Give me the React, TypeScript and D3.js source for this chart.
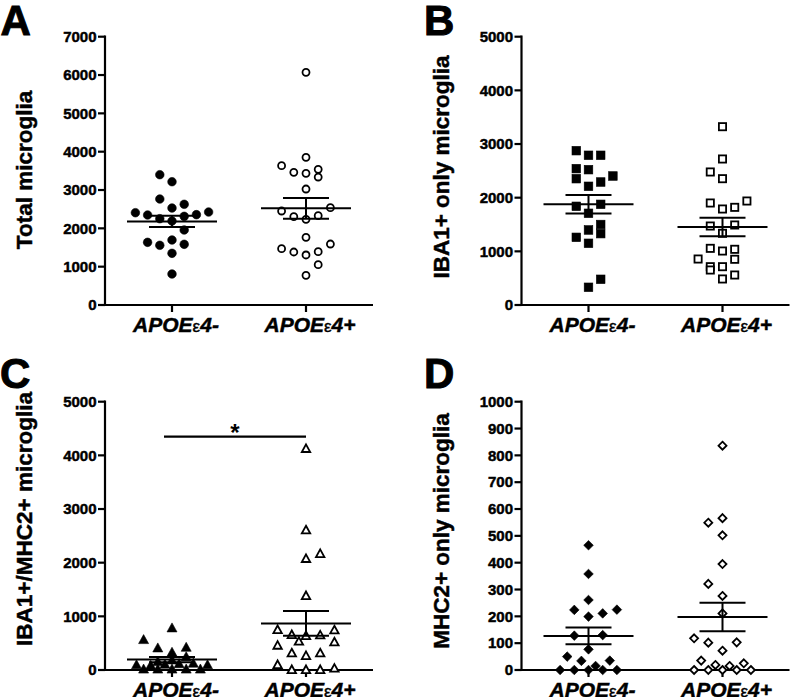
import React from 'react';
import * as d3 from 'd3';

// ---------- data ----------
const categories = ['APOEε4-', 'APOEε4+'];

// Panel A: Total microglia
const totalNeg = [3400, 3217, 2765, 2627, 2530, 2408, 2348, 2252, 2191, 2313, 2357, 2426, 1957, 1635, 1557, 1696, 1583, 1348, 809];
const totalNegSlots = [-1, 0, -1, 1, 0, -3, -2, -1, 0, 1, 2, 3, 1, -2, -1, 0, 1, 0, 0];
const totalPos = [3853, 3635, 3461, 3435, 3539, 3339, 3026, 2452, 2539, 2304, 2235, 2330, 1766, 1470, 1383, 1305, 1391, 1591, 1052, 774, 6071];
const totalPosSlots = [0, -2, -1, 0, 1, 1, 0, -2, 2, -1, 0, 1, 0, -2, -1, 0, 1, 2, 1, 0, 0];
const ticksTotal = [0, 1000, 2000, 3000, 4000, 5000, 6000, 7000];

// Panel B: IBA1+ only microglia
const ibaNeg = [2876, 2790, 2790, 2541, 2522, 2354, 2404, 2292, 2212, 1839, 1876, 1709, 1398, 1500, 1330, 1261, 1150, 479, 330];
const ibaNegSlots = [-1, 0, 1, -1, 0, -1, 2, 1, 0, -1, 1, 0, 0, 1, 1, -1, 0, 1, 0];
const ibaPos = [3323, 2721, 2479, 2354, 1901, 1789, 1820, 1938, 1472, 1336, 1491, 1056, 1006, 1038, 857, 852, 714, 652, 714, 485, 559];
const ibaPosSlots = [0, 0, -1, 0, -1, 0, 1, 2, -1, 0, 1, -1, 0, 1, -2, 1, -1, -1, 0, 0, 1];
const ticksIba = [0, 1000, 2000, 3000, 4000, 5000];

// Panel C: IBA1+/MHC2+ microglia
const doubleNeg = [777, 559, 404, 416, 323, 240, 180, 150, 90, 10, 80, 10, 100, 10, 110, 10, 120, 10, 90];
const doubleNegSlots = [0, -2, -1, 1, 0, 1, 0, -1, -2.5, -2, -1.5, -1, -0.5, 0, 0.5, 1, 1.5, 2, 2.5];
const doublePos = [4119, 2603, 2069, 2162, 1379, 745, 652, 633, 645, 739, 528, 453, 516, 311, 261, 311, 93, 0, 0, 0, 25];
const doublePosSlots = [0, 0, 0, 1, 0, -2, -1, 0, 1, 2, -0.5, -2, 2, -1, 0, 1, -2, -1, 0, 1, 2];
const ticksDouble = [0, 1000, 2000, 3000, 4000, 5000];

// Panel D: MHC2+ only microglia
const mhcNeg = [465, 358, 261, 224, 199, 211, 225, 128, 130, 77, 50, 34, 35, 15, 0, 0, 0, 0, 0];
const mhcNegSlots = [0, 0, 0, -1, 0, 1, 2, -1, 1, 0, -1.5, -0.5, 1.5, 0.5, -2, -1, 0, 1, 2];
const mhcPos = [836, 549, 566, 502, 395, 321, 276, 211, 118, 102, 103, 72, 35, 19, 15, 25, 0, 0, 0, 0, 0];
const mhcPosSlots = [0, -1, 0, 0, 0, -1, 0, 0, -2, -1, 1, 0, -1.5, -0.5, 0.5, 1.5, -2, -1, 0, 1, 2];
const ticksMhc = [0, 100, 200, 300, 400, 500, 600, 700, 800, 900, 1000];

// ---------- layout / style ----------
const FONT = "'Liberation Sans', Arial, Helvetica, sans-serif";
const W = 268;
const H = 268.3;
const LW = 2.2;

type Marker = 'circle' | 'square' | 'triangle' | 'diamond';

interface PanelCfg {
  letter: string;
  letterX: number;
  letterY: number;
  left: number;
  top: number;
  title: string;
  titleCenter: number;
  titleLength?: number;
  ticks: number[];
  groups: number[][];
  slots: number[][];
  slotW: number;
  marker: Marker;
  sig?: boolean;
}

const panels: PanelCfg[] = [
  { letter: 'A', letterX: 0.5, letterY: 35, left: 105, top: 36.7, title: 'Total microglia', titleCenter: 170,
    ticks: ticksTotal, groups: [totalNeg, totalPos], slots: [totalNegSlots, totalPosSlots], slotW: 12.2, marker: 'circle' },
  { letter: 'B', letterX: 424, letterY: 35, left: 521.5, top: 36.7, title: 'IBA1+ only microglia', titleCenter: 167,
    ticks: ticksIba, groups: [ibaNeg, ibaPos], slots: [ibaNegSlots, ibaPosSlots], slotW: 12.2, marker: 'square' },
  { letter: 'C', letterX: 0, letterY: 387.5, left: 105, top: 401.7, title: 'IBA1+/MHC2+ microglia', titleCenter: 519, titleLength: 254,
    ticks: ticksDouble, groups: [doubleNeg, doublePos], slots: [doubleNegSlots, doublePosSlots], slotW: 14.2, marker: 'triangle', sig: true },
  { letter: 'D', letterX: 424, letterY: 387.5, left: 521.5, top: 401.7, title: 'MHC2+ only microglia', titleCenter: 531,
    ticks: ticksMhc, groups: [mhcNeg, mhcPos], slots: [mhcNegSlots, mhcPosSlots], slotW: 14.2, marker: 'diamond' },
];

function MarkerShape({ kind, cx, cy, filled }: { kind: Marker; cx: number; cy: number; filled: boolean }) {
  const fill = filled ? '#000' : '#fff';
  const sw = filled ? 0.6 : 1.8;
  if (kind === 'circle') {
    const r = filled ? 4.3 : 3.5;
    return <circle cx={cx} cy={cy} r={r} fill={fill} stroke="#000" strokeWidth={sw} />;
  }
  if (kind === 'square') {
    const s = filled ? 8.6 : 7.2;
    return <rect x={cx - s / 2} y={cy - s / 2} width={s} height={s} fill={fill} stroke="#000" strokeWidth={sw} />;
  }
  if (kind === 'triangle') {
    const w = filled ? 10 : 8.4;
    const h = filled ? 9 : 7.6;
    const d = `M${cx},${cy - h * 0.6}L${cx + w / 2},${cy + h * 0.4}L${cx - w / 2},${cy + h * 0.4}Z`;
    return <path d={d} fill={fill} stroke="#000" strokeWidth={sw} strokeLinejoin="miter" />;
  }
  const r = filled ? 4.8 : 4.0;
  const d = `M${cx},${cy - r}L${cx + r},${cy}L${cx},${cy + r}L${cx - r},${cy}Z`;
  return <path d={d} fill={fill} stroke="#000" strokeWidth={sw} />;
}

const textStroke = { stroke: '#000', strokeWidth: 0.45 };

function Panel({ cfg }: { cfg: PanelCfg }) {
  const yMax = cfg.ticks[cfg.ticks.length - 1];
  const y = d3.scaleLinear().domain([0, yMax]).range([H, 0]);
  const x = d3.scalePoint<string>().domain(categories).range([0, W]).padding(0.5);
  const lenProps = cfg.titleLength ? { textLength: cfg.titleLength, lengthAdjust: 'spacingAndGlyphs' } : {};

  return (
    <g>
      <text x={cfg.letterX} y={cfg.letterY} fontFamily={FONT} fontWeight="bold" fontSize={42} stroke="#000" strokeWidth={1}>{cfg.letter}</text>
      <text
        transform={`translate(${cfg.left - 73},${cfg.titleCenter}) rotate(-90)`}
        textAnchor="middle" fontFamily={FONT} fontWeight="bold" fontSize={22.5} {...textStroke} {...lenProps}
      >{cfg.title}</text>
      <g transform={`translate(${cfg.left},${cfg.top})`}>
        {/* y axis */}
        <line x1={0} x2={0} y1={-LW / 2} y2={H} stroke="#000" strokeWidth={LW} />
        {cfg.ticks.map((t) => (
          <g key={t}>
            <line x1={-7} x2={0} y1={y(t)} y2={y(t)} stroke="#000" strokeWidth={LW} />
            <text x={-8.5} y={y(t) + 5.3} textAnchor="end" fontFamily={FONT} fontWeight="bold" fontSize={15} {...textStroke}>{t}</text>
          </g>
        ))}
        {/* x axis */}
        <line x1={-LW / 2} x2={W} y1={H} y2={H} stroke="#000" strokeWidth={LW} />
        {categories.map((c) => {
          const [pre, post] = c.split('ε');
          return (
            <g key={c}>
              <line x1={x(c)!} x2={x(c)!} y1={H} y2={H + 7} stroke="#000" strokeWidth={LW} />
              <text x={x(c)! + 4} y={H + 27.5} textAnchor="middle" fontFamily={FONT} fontWeight="bold" fontStyle="italic" fontSize={21} {...textStroke}>
                <tspan>{pre}</tspan>
                <tspan fontWeight="normal" fontStyle="normal" fontSize={17}>ε</tspan>
                <tspan>{post}</tspan>
              </text>
            </g>
          );
        })}
        {/* points */}
        {cfg.groups.map((vals, gi) =>
          vals.map((v, i) => (
            <MarkerShape
              key={`${gi}-${i}`}
              kind={cfg.marker}
              cx={x(categories[gi])! + cfg.slots[gi][i] * cfg.slotW}
              cy={y(v)}
              filled={gi === 0}
            />
          ))
        )}
        {/* mean ± SEM */}
        {cfg.groups.map((vals, gi) => {
          const m = d3.mean(vals)!;
          const sem = d3.deviation(vals)! / Math.sqrt(vals.length);
          const cx = x(categories[gi])!;
          return (
            <g key={`eb${gi}`} stroke="#000" strokeWidth={2}>
              <line x1={cx - 45} x2={cx + 45} y1={y(m)} y2={y(m)} />
              <line x1={cx - 23} x2={cx + 23} y1={y(m + sem)} y2={y(m + sem)} />
              <line x1={cx - 23} x2={cx + 23} y1={y(m - sem)} y2={y(m - sem)} />
              <line x1={cx} x2={cx} y1={y(m + sem)} y2={y(m - sem)} />
            </g>
          );
        })}
        {cfg.sig && (
          <g>
            <line x1={x(categories[0])! - 8} x2={x(categories[1])!} y1={y(4350)} y2={y(4350)} stroke="#000" strokeWidth={2.2} />
            <text x={(x(categories[0])! - 8 + x(categories[1])!) / 2} y={y(4350) + 4} textAnchor="middle" fontFamily={FONT} fontWeight="bold" fontSize={24}>*</text>
          </g>
        )}
      </g>
    </g>
  );
}

export default function App() {
  return (
    <svg width={791} height={697} style={{ position: 'absolute', left: 0, top: 0, background: '#fff' }}>
      <rect x={0} y={0} width={791} height={697} fill="#fff" />
      {panels.map((p) => <Panel key={p.letter} cfg={p} />)}
    </svg>
  );
}
